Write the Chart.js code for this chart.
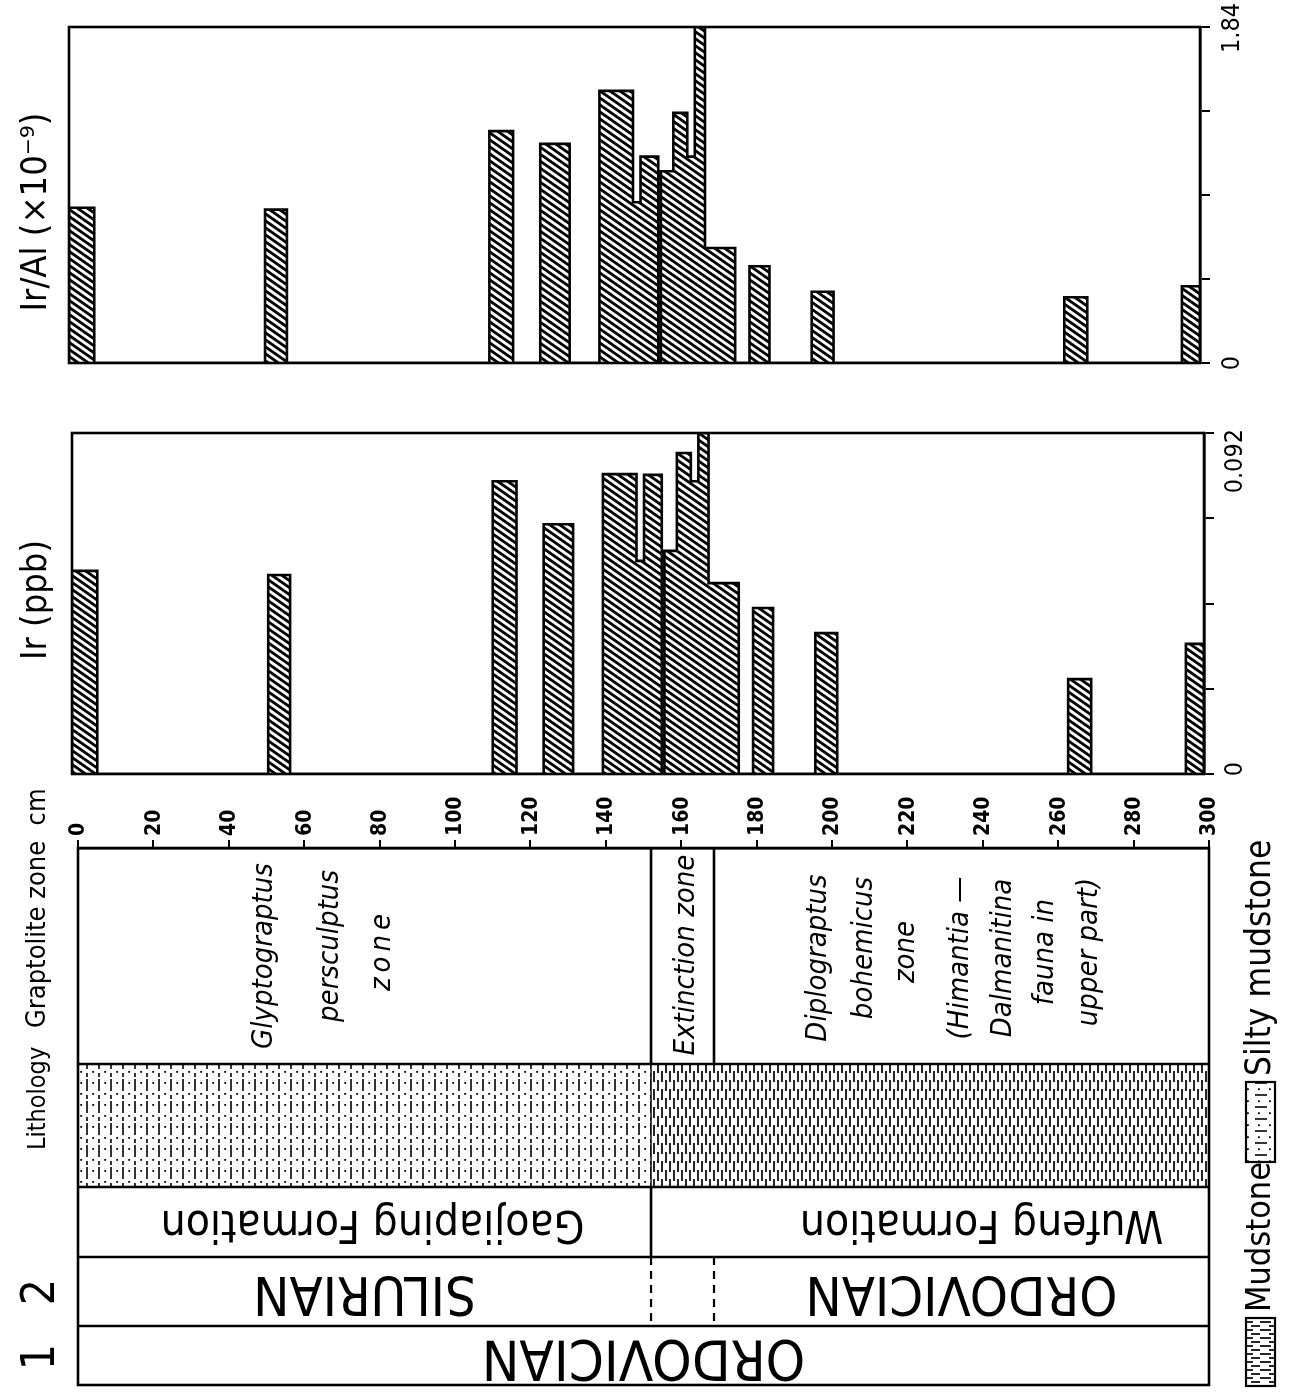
<!DOCTYPE html>
<html><head><meta charset="utf-8">
<script src="https://cdn.jsdelivr.net/npm/chart.js@4.4.1/dist/chart.umd.min.js"></script>
<style>
html,body{margin:0;padding:0;background:#fff;}
#wrap{position:relative;width:1291px;height:1395px;background:#fff;overflow:hidden;}
canvas{position:absolute;left:0;top:0;}
</style></head><body>
<div id="wrap">
<canvas id="cIrAl" width="1291" height="1395"></canvas>
<canvas id="cIr" width="1291" height="1395"></canvas>
<canvas id="cCol" width="1291" height="1395"></canvas>
</div>
<script>
// ---------- data (depth in cm) ----------
const depthFrom = [0, 52, 111.5, 125, 140.7, 149.6, 151.6, 157, 160.3, 164, 166, 168.7, 180.5, 197, 264, 295.2];
const depthTo   = [6.7, 57.8, 117.8, 132.8, 149.6, 151.6, 156.3, 160.3, 164, 166, 168.7, 176.7, 185.8, 202.8, 270.1, 300];
const irAl  = [0.85, 0.84, 1.27, 1.20, 1.49, 0.88, 1.13, 1.05, 1.37, 1.13, 1.84, 0.63, 0.53, 0.39, 0.36, 0.42];
const irPpb = [0.0548, 0.0537, 0.0790, 0.0674, 0.0809, 0.0575, 0.0807, 0.0602, 0.0866, 0.0790, 0.092, 0.0515, 0.0448, 0.0380, 0.0256, 0.0351];
const irAlTicks = [0, 0.46, 0.92, 1.38, 1.84];
const irTicks   = [0, 0.023, 0.046, 0.069, 0.092];
const depthTicks = [0,20,40,60,80,100,120,140,160,180,200,220,240,260,280,300];
const zoneBounds = [0, 152, 168.7, 300];
const irAlTitle = 'Ir/Al (\u00d710\u207b\u2079)';
const irTitle = 'Ir (ppb)';
const graptLeft = ['Glyptograptus', 'persculptus', 'zone'];
const graptMid = ['Extinction zone'];
const graptRight = ['Diplograptus', 'bohemicus', 'zone', '(Himantia \u2014', 'Dalmanitina', 'fauna in', 'upper part)'];
const formations = ['Gaojiaping Formation', 'Wufeng Formation'];
const systems2 = ['SILURIAN', 'ORDOVICIAN'];
const systems1 = ['ORDOVICIAN'];
const legendItems = ['Mudstone', 'Silty mudstone'];

// ---------- helpers ----------
const W = 1291, H = 1395;
const SANS = "'DejaVu Sans Condensed','DejaVu Sans',sans-serif";
function rtext(ctx, str, x, y, font, angle, align, spacing) {
  ctx.save();
  ctx.translate(x, y);
  ctx.rotate(angle);
  ctx.font = font;
  ctx.textAlign = align || 'center';
  ctx.textBaseline = 'middle';
  if (spacing) ctx.letterSpacing = spacing;
  ctx.fillStyle = '#000';
  ctx.fillText(str, 0, 0);
  ctx.restore();
}
const UP = -Math.PI / 2, FLIP = Math.PI;

function makeTile(w, h, draw) {
  const c = document.createElement('canvas');
  c.width = w; c.height = h;
  const x = c.getContext('2d');
  x.fillStyle = '#fff'; x.fillRect(0, 0, w, h);
  x.strokeStyle = '#000'; x.fillStyle = '#000';
  draw(x, w, h);
  return c;
}
const hatchTile = makeTile(10, 7, (x, w, h) => {
  x.lineWidth = 2.8;
  for (const dx of [-w, 0, w]) {
    x.beginPath(); x.moveTo(dx - w, -h); x.lineTo(dx + 2 * w, 2 * h); x.stroke();
  }
});
const siltyTile = makeTile(12, 22, (x) => {
  x.lineWidth = 1.6;
  x.beginPath(); x.moveTo(3, 1); x.lineTo(3, 13); x.stroke();
  x.fillRect(8.3, 4, 1.8, 1.8);
  x.fillRect(8.3, 15, 1.8, 1.8);
  x.beginPath(); x.moveTo(3, 17); x.lineTo(3, 21); x.stroke();
});
const mudTile = makeTile(8, 18, (x) => {
  x.lineWidth = 1.7;
  x.beginPath(); x.moveTo(2, 0); x.lineTo(2, 11); x.stroke();
  x.beginPath(); x.moveTo(6, 9); x.lineTo(6, 18); x.stroke();
  x.beginPath(); x.moveTo(6, 0); x.lineTo(6, 2); x.stroke();
});
const mudTileRot = makeTile(18, 8, (x) => {
  x.lineWidth = 1.7;
  x.beginPath(); x.moveTo(0, 2); x.lineTo(11, 2); x.stroke();
  x.beginPath(); x.moveTo(9, 6); x.lineTo(18, 6); x.stroke();
});
const siltyTileRot = makeTile(22, 12, (x) => {
  x.lineWidth = 1.6;
  x.beginPath(); x.moveTo(1, 3); x.lineTo(13, 3); x.stroke();
  x.fillRect(4, 8.3, 1.8, 1.8);
  x.fillRect(15, 8.3, 1.8, 1.8);
});

function barPath(vals) {
  const pts = [];
  for (let i = 0; i < vals.length; i++) {
    const a = depthFrom[i], b = depthTo[i], v = vals[i];
    const joinedPrev = i > 0 && depthTo[i - 1] === a;
    const joinedNext = i < vals.length - 1 && depthFrom[i + 1] === b;
    if (!joinedPrev) pts.push({x: a, y: 0});
    pts.push({x: a, y: v}, {x: b, y: v});
    if (!joinedNext) pts.push({x: b, y: 0});
  }
  return pts;
}

// ---------- bar panels ----------
const AXW = 12;
function barPanel(id, vals, ticks, area, title, titlePos, labels) {
  const cv = document.getElementById(id);
  const ctx = cv.getContext('2d');
  const pattern = ctx.createPattern(hatchTile, 'repeat');
  const framePlugin = {
    id: 'frame' + id,
    afterDraw(chart) {
      const c = chart.ctx, a = chart.chartArea, ys = chart.scales.y;
      c.save();
      c.strokeStyle = '#000'; c.lineWidth = 2.6;
      c.strokeRect(a.left, a.top, a.right - a.left, a.bottom - a.top);
      c.restore();
      rtext(c, title, titlePos[0], titlePos[1], titlePos[2], UP);
      for (const L of labels) {
        rtext(c, L.text, L.x, ys.getPixelForValue(L.v) + L.dy, "25px " + SANS, UP, L.align);
      }
    }
  };
  return new Chart(cv, {
    type: 'line',
    data: {datasets: [{
      data: barPath(vals), fill: 'origin', backgroundColor: pattern,
      borderColor: '#000', borderWidth: 2.6, pointRadius: 0, tension: 0,
      borderJoinStyle: 'miter'
    }]},
    options: {
      responsive: false, animation: false, events: [],
      layout: {padding: {left: area.l, top: area.t, right: W - area.r - AXW, bottom: H - area.b}},
      plugins: {legend: {display: false}, tooltip: {enabled: false}},
      scales: {
        x: {type: 'linear', min: 0, max: 300, display: false},
        y: {
          type: 'linear', min: 0, max: ticks[ticks.length - 1], position: 'right',
          afterFit(s) { s.width = AXW; },
          afterBuildTicks(s) { s.ticks = ticks.map(v => ({value: v})); },
          ticks: {display: false},
          grid: {drawOnChartArea: false, drawTicks: true, tickLength: 10, color: '#000', lineWidth: 2},
          border: {display: true, color: '#000', width: 2.6}
        }
      }
    },
    plugins: [framePlugin]
  });
}

barPanel('cIrAl', irAl, irAlTicks, {l: 69, t: 27, r: 1200, b: 363}, irAlTitle,
  [37, 212, "36px " + SANS],
  [{text: '1.84', v: 1.84, x: 1232, dy: 1, align: 'center'}, {text: '0', v: 0, x: 1232, dy: 0, align: 'center'}]);
barPanel('cIr', irPpb, irTicks, {l: 72, t: 433, r: 1204, b: 774}, irTitle,
  [37, 600, "36px " + SANS],
  [{text: '0.092', v: 0.092, x: 1235, dy: -4, align: 'right'}, {text: '0', v: 0, x: 1235, dy: -5, align: 'center'}]);

// ---------- stratigraphic column ----------
const ROW = {axis: 848, lith: 1064, form: 1187, sys2: 1257, sys1: 1326, bottom: 1385};
const colPlugin = {
  id: 'column',
  afterDraw(chart) {
    const c = chart.ctx, xs = chart.scales.x, a = chart.chartArea;
    const X = v => xs.getPixelForValue(v);
    const b1 = X(zoneBounds[1]), b2 = X(zoneBounds[2]);
    c.save();
    // lithology patterns
    c.fillStyle = c.createPattern(siltyTile, 'repeat');
    c.fillRect(a.left, ROW.lith, b1 - a.left, ROW.form - ROW.lith);
    c.fillStyle = c.createPattern(mudTile, 'repeat');
    c.fillRect(b1, ROW.lith, a.right - b1, ROW.form - ROW.lith);
    // frame and row lines
    c.strokeStyle = '#000'; c.lineWidth = 2.6;
    c.strokeRect(a.left, a.top, a.right - a.left, a.bottom - a.top);
    c.beginPath();
    for (const y of [ROW.lith, ROW.form, ROW.sys2, ROW.sys1]) { c.moveTo(a.left, y); c.lineTo(a.right, y); }
    c.moveTo(b1, a.top); c.lineTo(b1, ROW.lith);
    c.moveTo(b2, a.top); c.lineTo(b2, ROW.lith);
    c.moveTo(b1, ROW.form); c.lineTo(b1, ROW.sys2);
    c.stroke();
    c.lineWidth = 1.4;
    c.beginPath(); c.moveTo(b1, ROW.lith); c.lineTo(b1, ROW.form); c.stroke();
    c.lineWidth = 2.2; c.setLineDash([8, 6]);
    c.beginPath();
    c.moveTo(b1, ROW.sys2); c.lineTo(b1, ROW.sys1);
    c.moveTo(b2, ROW.sys2); c.lineTo(b2, ROW.sys1);
    c.stroke();
    c.setLineDash([]);
    c.restore();

    // depth tick labels
    for (const t of xs.ticks) {
      rtext(c, String(t.value), X(t.value) + 1, ROW.axis - 12, "bold 21px " + SANS, UP, 'left');
    }
    // left labels
    rtext(c, 'Graptolite zone  cm', 38, 1028, "27px " + SANS, UP, 'left');
    rtext(c, 'Lithology', 38, 1150, "25px " + SANS, UP, 'left');
    rtext(c, '2', 42, 1292, "46px " + SANS, UP);
    rtext(c, '1', 42, 1357, "46px " + SANS, UP);

    // graptolite zone texts
    const IT = "italic 29px " + SANS;
    const leftPos = [[264, 956], [330, 946], [382, 950]];
    graptLeft.forEach((s, i) => rtext(c, s, leftPos[i][0], leftPos[i][1], IT, UP, 'center', i === 2 ? '5px' : null));
    rtext(c, graptMid[0], 686, 955, IT, UP);
    const rightPos = [[818, 958], [864, 948], [906, 952], [960, 958], [1003, 958], [1045, 952], [1089, 952]];
    graptRight.forEach((s, i) => rtext(c, s, rightPos[i][0], rightPos[i][1], IT, UP));

    // formations & systems (upside down)
    const midL = (a.left + b1) / 2;
    rtext(c, formations[0], midL + 8, (ROW.form + ROW.sys2) / 2, "44px " + SANS, FLIP);
    rtext(c, formations[1], (b2 + a.right) / 2 + 20, (ROW.form + ROW.sys2) / 2, "44px " + SANS, FLIP);
    rtext(c, systems2[0], midL, (ROW.sys2 + ROW.sys1) / 2, "54px " + SANS, FLIP);
    rtext(c, systems2[1], (b2 + a.right) / 2, (ROW.sys2 + ROW.sys1) / 2, "54px " + SANS, FLIP);
    rtext(c, systems1[0], (a.left + a.right) / 2, (ROW.sys1 + ROW.bottom) / 2, "56px " + SANS, FLIP);

    // legend
    c.save();
    c.strokeStyle = '#000'; c.lineWidth = 2.2;
    c.fillStyle = c.createPattern(mudTileRot, 'repeat');
    c.fillRect(1246, 1318, 29, 68);
    c.strokeRect(1246, 1318, 29, 68);
    c.fillStyle = c.createPattern(siltyTileRot, 'repeat');
    c.fillRect(1246, 1082, 29, 80);
    c.strokeRect(1246, 1082, 29, 80);
    c.restore();
    rtext(c, legendItems[0], 1261, 1312, "34px " + SANS, UP, 'left');
    rtext(c, legendItems[1], 1261, 1076, "35px " + SANS, UP, 'left');
  }
};
new Chart(document.getElementById('cCol'), {
  type: 'line',
  data: {datasets: [{data: [], pointRadius: 0}]},
  options: {
    responsive: false, animation: false, events: [],
    layout: {padding: {left: 78, top: ROW.axis - 9, right: W - 1209, bottom: H - ROW.bottom}},
    plugins: {legend: {display: false}, tooltip: {enabled: false}},
    scales: {
      x: {
        type: 'linear', min: 0, max: 300, position: 'top',
        afterFit(s) { s.height = 9; },
        afterBuildTicks(s) { s.ticks = depthTicks.map(v => ({value: v})); },
        ticks: {display: false},
        grid: {drawOnChartArea: false, drawTicks: true, tickLength: 8, color: '#000', lineWidth: 2},
        border: {display: true, color: '#000', width: 2.6}
      },
      y: {type: 'linear', min: 0, max: 1, display: false}
    }
  },
  plugins: [colPlugin]
});
</script>
</body></html>
